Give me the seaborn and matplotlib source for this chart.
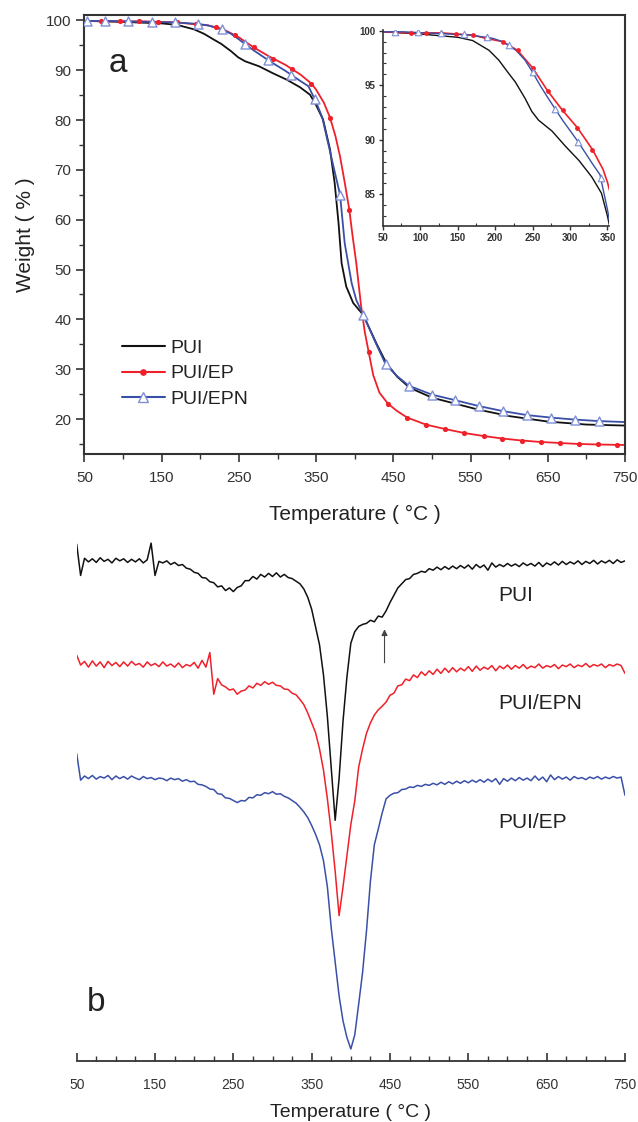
import matplotlib
matplotlib.use("Agg")
import matplotlib.pyplot as plt
import seaborn as sns
from matplotlib.lines import Line2D
from matplotlib.ticker import MultipleLocator

# ---------------- TGA (panel a) ----------------
PUI_T = [50, 100, 150, 170, 192, 205, 218, 227, 240, 249, 258, 276, 294, 312, 329, 342, 350,
         359, 368, 374, 379, 383, 389, 398, 411, 428, 441, 455, 471, 500, 530, 560, 600, 650, 700, 750]
PUI_W = [99.9, 99.7, 99.4, 99.1, 98.2, 97.3, 96.1, 95.3, 93.8, 92.6, 91.8, 90.8, 89.4, 88.1, 86.6, 85.1, 83.0,
         80.1, 74.1, 67.4, 59.4, 51.3, 46.6, 43.3, 40.9, 35.2, 31.2, 28.5, 26.3, 24.3, 23.1, 21.9, 20.6, 19.5, 18.9, 18.7]

EP_T = [50, 88, 108, 128, 148, 170, 188, 210, 230, 250, 270, 290, 310, 330, 344, 350, 360, 368, 375, 381,
        387, 393, 397, 402, 408, 413, 418, 424, 432, 443, 455, 468, 492, 517, 542, 567, 591, 616, 641, 666,
        690, 715, 750]
EP_W = [99.9, 99.8, 99.8, 99.8, 99.7, 99.6, 99.3, 99.0, 98.2, 96.6, 94.5, 92.7, 91.1, 89.1, 87.3, 86.1, 83.5,
        80.5, 76.8, 72.7, 67.5, 62.0, 57.0, 51.3, 43.0, 37.5, 33.5, 28.8, 25.3, 23.1, 21.6, 20.3, 18.9, 18.0,
        17.2, 16.6, 16.1, 15.7, 15.4, 15.2, 15.0, 14.9, 14.8]

EPN_T = [50, 77, 107, 137, 167, 197, 210, 228, 240, 250, 260, 270, 290, 310, 330, 340, 350, 358, 364, 372,
         381, 387, 396, 402, 411, 420, 428, 440, 455, 470, 500, 530, 561, 592, 623, 654, 685, 716, 750]
EPN_W = [99.9, 99.9, 99.8, 99.7, 99.6, 99.3, 99.0, 98.2, 97.3, 96.2, 95.0, 93.9, 91.8, 89.9, 87.8, 86.8, 83.6,
         80.5, 76.4, 71.0, 65.0, 55.3, 47.3, 43.9, 40.9, 37.8, 35.0, 31.0, 28.6, 26.7, 24.9, 23.8, 22.6, 21.6,
         20.8, 20.3, 19.9, 19.6, 19.4]

# symbols on the main plot
EP_MARK_T = [71, 96, 121, 145, 170, 195, 220, 245, 269, 294, 319, 344, 368, 393, 418, 443, 468, 492,
             517, 542, 567, 591, 616, 641, 666, 690, 715, 740]
EP_MARK_W = [99.9, 99.8, 99.8, 99.7, 99.6, 99.2, 98.6, 97.0, 94.6, 92.3, 90.2, 87.3, 80.5, 62.0, 33.5,
             23.1, 20.3, 18.9, 18.0, 17.2, 16.6, 16.1, 15.7, 15.4, 15.2, 15.0, 14.9, 14.8]
EPN_MARK_T = [53, 77, 107, 137, 167, 197, 228, 258, 288, 318, 348, 381, 411, 440, 470, 500, 530, 561,
              592, 623, 654, 685, 716]
EPN_MARK_W = [99.9, 99.9, 99.8, 99.7, 99.6, 99.3, 98.2, 95.2, 92.0, 89.1, 84.2, 65.0, 40.9, 31.0, 26.7,
              24.9, 23.8, 22.6, 21.6, 20.8, 20.3, 19.9, 19.6]

# symbols on the inset
IN_EP_MARK_T = [88, 108, 128, 148, 170, 188, 210, 230, 250, 270, 290, 310, 330]
IN_EP_MARK_W = [99.8, 99.8, 99.8, 99.7, 99.6, 99.3, 99.0, 98.2, 96.6, 94.5, 92.7, 91.1, 89.1]
IN_EPN_MARK_T = [67, 97, 128, 158, 189, 219, 250, 280, 311, 341]
IN_EPN_MARK_W = [99.9, 99.9, 99.8, 99.7, 99.4, 98.7, 96.2, 92.8, 89.8, 86.5]

# ---------------- DTG (panel b), 5 degC steps, 50..750 ----------------
DTG_T = list(range(50, 751, 5))
DTG_PUI = [
    3.0, -3.0, 0.3, -0.4, 0.2, -0.5, 0.4, -0.3, 0.1, -0.6,
    0.3, -0.2, 0.2, -0.5, 0.1, -0.4, 0.2, -0.6, 0.0, 3.2,
    -3.0, -0.3, -0.6, -0.2, -0.9, -0.5, -1.1, -0.9, -1.6, -1.8,
    -2.4, -2.6, -3.4, -3.5, -4.2, -4.4, -5.2, -5.0, -5.9, -5.4,
    -6.1, -5.3, -5.0, -4.0, -4.0, -3.2, -3.7, -2.8, -3.3, -2.6,
    -3.2, -2.5, -3.3, -2.8, -3.4, -3.6, -4.1, -4.6, -5.6, -7.2,
    -9.5, -12.9, -16.3, -22.0, -30.0, -40.0, -50.0, -42.0, -31.0, -22.5,
    -16.0, -13.8, -12.8, -12.4, -12.2, -11.6, -11.9, -10.8, -11.0, -9.8,
    -8.2, -6.8, -5.4, -4.6, -3.8, -3.6, -2.8, -2.6, -2.2, -2.4,
    -1.7, -2.0, -1.4, -1.9, -1.3, -1.8, -1.2, -1.7, -1.1, -1.6,
    -1.0, -1.8, -0.9, -1.5, -1.0, -2.0, -0.6, -1.4, -0.9, -1.3,
    -0.7, -1.2, -0.8, -1.3, -0.6, -1.1, -0.7, -1.2, -0.5, -1.3,
    -0.6, -1.0, -0.4, -1.0, -0.3, -0.9, -0.4, -0.8, -0.2, -0.9,
    -0.3, -0.7, -0.1, -0.8, -0.2, -0.6, -0.1, -0.7, 0.0, -0.5,
    -0.2,
]
DTG_EPN = [
    1.5, -0.4, 0.3, -0.8, 0.4, -0.6, 0.2, -0.9, 0.3, -0.5,
    0.1, -0.7, 0.2, -0.6, 0.3, -0.4, -0.1, -0.8, 0.2, -0.5,
    -0.1, -0.7, 0.2, -0.6, -0.2, -0.8, 0.0, -0.9, -0.3, -0.6,
    0.1, -1.0, 0.5, -0.8, 2.0, -6.0, -3.0, -4.2, -4.6, -5.2,
    -5.0, -6.0, -5.4, -5.2, -4.4, -4.8, -3.9, -4.3, -3.6, -4.1,
    -3.7, -4.3, -4.4, -5.0, -5.1, -5.8, -6.1, -7.0, -8.0, -9.6,
    -11.5, -13.4, -16.5, -20.5, -26.0, -32.5, -40.0, -48.5, -43.0, -37.0,
    -31.0, -26.5, -20.0, -16.5, -13.5, -11.5, -10.0, -9.0, -8.3, -7.5,
    -6.2, -5.8, -4.4, -4.2, -3.1, -3.4, -2.3, -2.8, -1.7, -2.4,
    -1.5, -2.2, -1.2, -2.0, -1.0, -1.8, -0.9, -1.7, -1.0, -1.5,
    -0.7, -1.6, -0.6, -1.4, -0.8, -1.2, -0.5, -1.5, -0.6, -1.1,
    -0.4, -1.2, -0.5, -1.0, -0.3, -1.1, -0.6, -0.9, -0.2, -1.0,
    -0.5, -0.8, -0.3, -1.1, -0.4, -0.7, -0.2, -0.9, -0.4, -0.7,
    -0.1, -0.8, -0.3, -0.6, -0.2, -0.9, -0.3, -0.6, -0.2, -0.5,
    -2.0,
]
DTG_EP = [
    4.5, -0.6, 0.2, -0.3, 0.3, -0.4, 0.1, -0.2, 0.3, -0.5,
    0.2, -0.3, 0.1, -0.4, 0.2, -0.2, -0.5, 0.1, -0.3, -0.1,
    -0.5, -0.2, -0.3, -0.7, -0.2, -0.5, -0.3, -0.8, -0.5, -0.9,
    -0.8, -1.4, -1.5, -1.8, -2.3, -2.4, -3.2, -3.3, -4.0, -4.1,
    -4.5, -4.9, -4.5, -4.6, -3.9, -4.0, -3.4, -3.5, -3.0, -3.2,
    -2.8, -3.3, -3.2, -3.7, -4.0, -4.5, -5.0, -5.8, -6.7, -7.8,
    -9.3, -11.0, -13.0, -16.0, -21.0, -29.0, -35.5, -42.0, -46.8, -50.0,
    -52.2, -49.5, -43.6, -37.5, -29.5, -20.0, -13.0, -10.0, -6.9, -4.2,
    -3.5, -3.1, -3.0, -2.4, -2.3, -1.9, -2.0, -1.6, -1.8, -1.4,
    -1.6, -1.2, -1.5, -1.0, -1.4, -0.9, -1.3, -0.8, -1.2, -0.7,
    -1.1, -0.6, -1.0, -0.5, -1.0, -0.4, -0.9, -0.3, -1.4, -0.3,
    -0.8, -0.2, -0.7, -0.1, -0.6, -0.2, -0.7, 0.2, -0.6, 0.0,
    -0.9, 0.4, -0.5, 0.1, -0.4, 0.0, -0.6, 0.1, -0.3, -0.1,
    -0.5, 0.0, -0.3, 0.1, -0.4, 0.0, -0.3, 0.1, -0.2, 0.0,
    -3.5,
]
DTG_NAMES = ["PUI", "PUI/EPN", "PUI/EP"]
DTG_OFFSETS = [96.2, 76.4, 54.5]
ARROW_T = 443

BLACK = "#111111"
RED = "#f0202a"
BLUE = "#3a50a8"
TRI_EDGE = "#7f8fd6"
GREY = "#333333"

sns.set_style("ticks")
plt.rcParams["font.family"] = ["Liberation Sans", "DejaVu Sans"]
plt.rcParams["text.color"] = "#222222"
plt.rcParams["axes.labelcolor"] = "#222222"
plt.rcParams["xtick.color"] = GREY
plt.rcParams["ytick.color"] = GREY

fig = plt.figure(figsize=(6.38, 11.22), dpi=100)

# ---------- panel a ----------
ax = fig.add_axes([0.1324, 0.5954, 0.8472, 0.3913])
sns.lineplot(x=PUI_T, y=PUI_W, ax=ax, color=BLACK, lw=1.3, estimator=None, sort=False)
sns.lineplot(x=EP_T, y=EP_W, ax=ax, color=RED, lw=1.3, estimator=None, sort=False)
sns.lineplot(x=EPN_T, y=EPN_W, ax=ax, color=BLUE, lw=1.3, estimator=None, sort=False)
sns.scatterplot(x=EP_MARK_T, y=EP_MARK_W, ax=ax, color=RED, s=14, edgecolor=RED, linewidth=0, zorder=4)
sns.scatterplot(x=EPN_MARK_T, y=EPN_MARK_W, ax=ax, marker="^", s=42, facecolor="white",
                edgecolor=TRI_EDGE, linewidth=1.0, zorder=5)
ax.set_xlim(50, 750)
ax.set_ylim(13, 101.1)
ax.xaxis.set_minor_locator(MultipleLocator(50))
ax.yaxis.set_minor_locator(MultipleLocator(5))
ax.set_xticks(range(50, 751, 100))
ax.set_yticks(range(20, 101, 10))
ax.tick_params(axis="both", which="major", direction="out", length=6, width=1.2, labelsize=11)
ax.tick_params(axis="x", which="major", pad=6.5)
ax.tick_params(axis="both", which="minor", direction="out", length=3.5, width=1.0)
for sp in ax.spines.values():
    sp.set_linewidth(1.5)
    sp.set_color(GREY)
ax.set_xlabel("Temperature ( °C )", fontsize=15, labelpad=14)
ax.set_ylabel("Weight ( % )", fontsize=15, labelpad=8)
ax.text(0.062, 0.89, "a", transform=ax.transAxes, fontsize=24, ha="center", va="center")

handles = [
    Line2D([], [], color=BLACK, lw=1.5),
    Line2D([], [], color=RED, lw=1.5, marker="o", ms=3.8, markevery=[1]),
    Line2D([], [], color=BLUE, lw=1.5, marker="^", ms=7, mfc="white", mec=TRI_EDGE, markevery=[1]),
]
leg = ax.legend(handles, ["PUI", "PUI/EP", "PUI/EPN"], loc="upper left", bbox_to_anchor=(0.069, 0.262),
                frameon=False, fontsize=14, handlelength=2.2, handletextpad=0.3, labelspacing=0.42,
                borderpad=0, borderaxespad=0)

# inset
ins = fig.add_axes([0.5998, 0.7986, 0.3547, 0.1750])
sns.lineplot(x=PUI_T, y=PUI_W, ax=ins, color=BLACK, lw=1.0, estimator=None, sort=False)
sns.lineplot(x=EP_T, y=EP_W, ax=ins, color=RED, lw=1.2, estimator=None, sort=False)
sns.lineplot(x=EPN_T, y=EPN_W, ax=ins, color=BLUE, lw=1.0, estimator=None, sort=False)
sns.scatterplot(x=IN_EP_MARK_T, y=IN_EP_MARK_W, ax=ins, color=RED, s=12, linewidth=0, zorder=4)
sns.scatterplot(x=IN_EPN_MARK_T, y=IN_EPN_MARK_W, ax=ins, marker="^", s=22, facecolor="white",
                edgecolor=TRI_EDGE, linewidth=0.8, zorder=5)
ins.set_xlim(50, 352)
ins.set_ylim(82.1, 100.1)
ins.set_xticks(range(50, 351, 50))
ins.set_yticks([85, 90, 95, 100])
ins.xaxis.set_minor_locator(MultipleLocator(25))
ins.yaxis.set_minor_locator(MultipleLocator(1))
ins.tick_params(axis="both", which="major", direction="out", length=3, width=1, labelsize=7, pad=2)
ins.tick_params(axis="both", which="minor", direction="in", length=2, width=0.8)
for lab in ins.get_xticklabels() + ins.get_yticklabels():
    lab.set_fontweight("bold")
ins.spines["top"].set_visible(False)
ins.spines["right"].set_visible(False)
for side in ["left", "bottom"]:
    ins.spines[side].set_linewidth(1.2)
    ins.spines[side].set_color(GREY)
ins.set_xlabel("")
ins.set_ylabel("")
ins.patch.set_alpha(0)

# ---------- panel b ----------
bx = fig.add_axes([0.1202, 0.0544, 0.8594, 0.4643])
for name, vals, off, col in zip(DTG_NAMES, [DTG_PUI, DTG_EPN, DTG_EP], DTG_OFFSETS, [BLACK, RED, BLUE]):
    sns.lineplot(x=DTG_T, y=[v + off for v in vals], ax=bx, color=col, lw=1.1,
                 estimator=None, sort=False)
label_y = [89.4, 68.7, 45.7]
for name, ly in zip(DTG_NAMES, label_y):
    bx.text(588, ly, name, fontsize=15, ha="left", va="center", color="#222222")
bx.annotate("", xy=(ARROW_T, DTG_OFFSETS[0] - 12.8), xytext=(ARROW_T, DTG_OFFSETS[0] - 20.3),
            arrowprops=dict(arrowstyle="-|>", color="#444444", lw=0.8, mutation_scale=9))
bx.text(0.035, 0.112, "b", transform=bx.transAxes, fontsize=24, ha="center", va="center")
bx.set_xlim(50, 750)
bx.set_ylim(0, 100)
bx.set_xticks(range(50, 751, 100))
bx.xaxis.set_minor_locator(MultipleLocator(25))
bx.set_yticks([])
for side in ["left", "right", "top"]:
    bx.spines[side].set_visible(False)
bx.spines["bottom"].set_linewidth(1.3)
bx.spines["bottom"].set_color(GREY)
bx.tick_params(axis="x", which="major", direction="in", length=6, width=1.2, labelsize=10, pad=12)
bx.tick_params(axis="x", which="minor", direction="in", length=3.5, width=1.0)
bx.set_xlabel("Temperature ( °C )", fontsize=14, labelpad=9)
bx.set_ylabel("")

fig.savefig("out.png", dpi=100)
